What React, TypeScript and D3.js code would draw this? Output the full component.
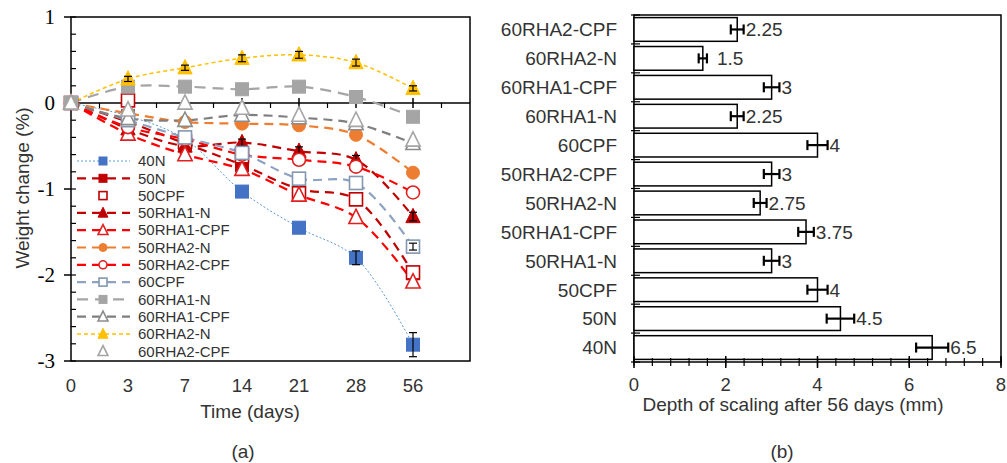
import React from "react";
import * as d3 from "d3";

// ---------- Data: (a) weight change ----------
const days = ["0", "3", "7", "14", "21", "28", "56"];
const yTicksA = [1, 0, -1, -2, -3];

const s40N = [0, -0.15, -0.42, -1.03, -1.45, -1.8, -2.81];
const s50N = [0, -0.22, -0.47, -0.72, -1.0, -1.12, -1.98];
const s50CPF = [0, 0.03, -0.45, -0.62, -1.05, -1.12, -1.97];
const s50RHA1N = [0, -0.3, -0.5, -0.46, -0.56, -0.66, -1.32];
const s50RHA1CPF = [0, -0.36, -0.6, -0.77, -1.07, -1.33, -2.08];
const s50RHA2N = [0, -0.12, -0.22, -0.24, -0.26, -0.37, -0.81];
const s50RHA2CPF = [0, -0.28, -0.42, -0.6, -0.66, -0.74, -1.04];
const s60CPF = [0, -0.2, -0.4, -0.58, -0.88, -0.93, -1.67];
const s60RHA1N = [0, 0.19, 0.19, 0.16, 0.19, 0.07, -0.16];
const s60RHA1CPF = [0, -0.18, -0.2, -0.14, -0.17, -0.24, -0.47];
const s60RHA2N = [0, 0.28, 0.41, 0.52, 0.56, 0.47, 0.17];
const s60RHA2CPF = [0, -0.08, 0.0, -0.06, -0.14, -0.2, -0.43];

const e40N = [0, 0, 0, 0, 0, 0.08, 0.14];
const e60RHA2N = [0, 0.03, 0.03, 0.04, 0.04, 0.04, 0.03];
const e50RHA1N = [0, 0, 0, 0.04, 0.05, 0.05, 0.05];
const e60CPF = [0, 0, 0, 0, 0, 0, 0.04];

// ---------- Data: (b) depth of scaling ----------
const mixes = [
  "60RHA2-CPF", "60RHA2-N", "60RHA1-CPF", "60RHA1-N", "60CPF", "50RHA2-CPF",
  "50RHA2-N", "50RHA1-CPF", "50RHA1-N", "50CPF", "50N", "40N",
];
const depth = [2.25, 1.5, 3, 2.25, 4, 3, 2.75, 3.75, 3, 4, 4.5, 6.5];
const depthLabels = ["2.25", "1.5", "3", "2.25", "4", "3", "2.75", "3.75", "3", "4", "4.5", "6.5"];
const depthErr = [0.14, 0.09, 0.17, 0.14, 0.22, 0.17, 0.14, 0.17, 0.17, 0.22, 0.3, 0.35];
const xTicksB = [0, 2, 4, 6, 8];

type Shape = "square" | "triangle" | "circle";
interface Ser {
  name: string; vals: number[]; err?: number[]; color: string; marker: string;
  shape: Shape; open: boolean; dash: string | null; width: number;
}

const series: Ser[] = [
  { name: "40N", vals: s40N, err: e40N, color: "#5B9BD5", marker: "#4472C4", shape: "square", open: false, dash: "2,2", width: 1 },
  { name: "50N", vals: s50N, color: "#C00000", marker: "#C00000", shape: "square", open: false, dash: "9,6", width: 2.2 },
  { name: "50CPF", vals: s50CPF, color: "#C00000", marker: "#C00000", shape: "square", open: true, dash: null, width: 0 },
  { name: "50RHA1-N", vals: s50RHA1N, err: e50RHA1N, color: "#C00000", marker: "#C00000", shape: "triangle", open: false, dash: "9,6", width: 2.2 },
  { name: "50RHA1-CPF", vals: s50RHA1CPF, color: "#FF0000", marker: "#E02020", shape: "triangle", open: true, dash: "9,6", width: 2.2 },
  { name: "50RHA2-N", vals: s50RHA2N, color: "#ED7D31", marker: "#ED7D31", shape: "circle", open: false, dash: "9,6", width: 2.2 },
  { name: "50RHA2-CPF", vals: s50RHA2CPF, color: "#FF0000", marker: "#E02020", shape: "circle", open: true, dash: "9,6", width: 2.2 },
  { name: "60CPF", vals: s60CPF, err: e60CPF, color: "#8EA3C2", marker: "#8497B0", shape: "square", open: true, dash: "9,6", width: 2.2 },
  { name: "60RHA1-N", vals: s60RHA1N, color: "#A5A5A5", marker: "#A5A5A5", shape: "square", open: false, dash: "11,7", width: 2.2 },
  { name: "60RHA1-CPF", vals: s60RHA1CPF, color: "#7F7F7F", marker: "#8C8C8C", shape: "triangle", open: true, dash: "9,6", width: 2.2 },
  { name: "60RHA2-N", vals: s60RHA2N, err: e60RHA2N, color: "#FFC000", marker: "#FFC000", shape: "triangle", open: false, dash: "4,3", width: 1.5 },
  { name: "60RHA2-CPF", vals: s60RHA2CPF, color: "#A5A5A5", marker: "#A5A5A5", shape: "triangle", open: true, dash: null, width: 0 },
];

const SANS = "'Liberation Sans', Arial, sans-serif";
const SERIF = "'Liberation Serif', 'Times New Roman', serif";
const TXT = "#333333";

function Marker({ s, x, y, size }: { s: Ser; x: number; y: number; size: number }) {
  const fill = s.open ? "#ffffff" : s.marker;
  const sw = s.open ? 1.6 : 1;
  if (s.shape === "square") {
    return <rect x={x - size / 2} y={y - size / 2} width={size} height={size} fill={fill} stroke={s.marker} strokeWidth={sw} />;
  }
  if (s.shape === "circle") {
    return <circle cx={x} cy={y} r={size / 2} fill={fill} stroke={s.marker} strokeWidth={sw} />;
  }
  const h = size * 1.05;
  const pts = `${x},${y - h * 0.6} ${x + size * 0.55},${y + h * 0.45} ${x - size * 0.55},${y + h * 0.45}`;
  return <polygon points={pts} fill={fill} stroke={s.marker} strokeWidth={sw} />;
}

export default function App() {
  // ---- panel (a) scales ----
  const xA = d3.scaleLinear().domain([0, 7]).range([71, 470]);
  const yA = d3.scaleLinear().domain([-3, 1]).range([361, 17]);
  const line = d3
    .line<number>()
    .x((_, i) => xA(i))
    .y((d) => yA(d))
    .curve(d3.curveCatmullRom.alpha(0.5));
  const minorY = d3.range(-3, 1.001, 0.2);
  const minorX = d3.range(0.5, 7, 1);

  // ---- panel (b) scales ----
  const xB = d3.scaleLinear().domain([0, 8]).range([634, 1001]);
  const yB = d3.scaleBand<string>().domain(mixes).range([15, 362]).paddingInner(0.18).paddingOuter(0.09);
  const step = yB.step();
  const minorB = d3.range(0, 8.001, 0.4);

  const legendY0 = 161;
  const legendStep = 17.3;

  return (
    <svg width={1007} height={463} style={{ position: "absolute", left: 0, top: 0, background: "#fff" }}>
      <rect x={0} y={0} width={1007} height={463} fill="#fff" />
      {/* ================= Panel (a) ================= */}
      <rect x={xA(0)} y={yA(1)} width={xA(7) - xA(0)} height={yA(-3) - yA(1)} fill="none" stroke="#000" strokeWidth={1.5} />
      <line x1={xA(0)} x2={xA(7)} y1={yA(0)} y2={yA(0)} stroke="#000" strokeWidth={1.5} />
      {days.map((d, i) => (
        <line key={"xt" + d} x1={xA(i)} x2={xA(i)} y1={yA(0) - 5} y2={yA(0) + 5} stroke="#000" strokeWidth={1.5} />
      ))}
      {minorX.map((v) => (
        <line key={"xm" + v} x1={xA(v)} x2={xA(v)} y1={yA(0)} y2={yA(0) + 5} stroke="#000" strokeWidth={1.2} />
      ))}
      {minorY.map((v, i) => (
        <line key={"ym" + i} x1={xA(0)} x2={xA(0) + 5} y1={yA(v)} y2={yA(v)} stroke="#000" strokeWidth={1.2} />
      ))}
      {yTicksA.map((v) => (
        <g key={"yt" + v}>
          <line x1={xA(0) - 7} x2={xA(0)} y1={yA(v)} y2={yA(v)} stroke="#000" strokeWidth={1.5} />
          <text x={55} y={yA(v)} dy="0.33em" textAnchor="end" fontFamily={SERIF} fontSize={21} fill="#000">
            {v < 0 ? "-" + Math.abs(v) : String(v)}
          </text>
        </g>
      ))}
      {days.map((d, i) => (
        <text key={"xl" + d} x={xA(i)} y={392} textAnchor="middle" fontFamily={SANS} fontSize={18.5} fill={TXT}>
          {d}
        </text>
      ))}
      <text x={250} y={418} textAnchor="middle" fontFamily={SANS} fontSize={19} fill={TXT}>Time (days)</text>
      <text transform="translate(29,188) rotate(-90)" textAnchor="middle" fontFamily={SANS} fontSize={19} fill={TXT}>
        Weight change (%)
      </text>
      <text x={243} y={458} textAnchor="middle" fontFamily={SANS} fontSize={19} fill={TXT}>(a)</text>

      {series.map((s) =>
        s.dash ? (
          <path key={"l" + s.name} d={line(s.vals) || ""} fill="none" stroke={s.color} strokeWidth={s.width} strokeDasharray={s.dash} />
        ) : null
      )}
      {series.map((s) => (
        <g key={"m" + s.name}>
          {s.vals.map((v, i) => (
            <Marker key={i} s={s} x={xA(i)} y={yA(v)} size={13} />
          ))}
          {s.err &&
            s.vals.map((v, i) =>
              s.err![i] > 0 ? (
                <g key={"e" + i} stroke="#000" strokeWidth={1.2}>
                  <line x1={xA(i)} x2={xA(i)} y1={yA(v + s.err![i])} y2={yA(v - s.err![i])} />
                  <line x1={xA(i) - 4} x2={xA(i) + 4} y1={yA(v + s.err![i])} y2={yA(v + s.err![i])} />
                  <line x1={xA(i) - 4} x2={xA(i) + 4} y1={yA(v - s.err![i])} y2={yA(v - s.err![i])} />
                </g>
              ) : null
            )}
        </g>
      ))}

      {series.map((s, i) => {
        const y = legendY0 + i * legendStep;
        return (
          <g key={"lg" + s.name}>
            {s.dash && <line x1={77} x2={130} y1={y} y2={y} stroke={s.color} strokeWidth={s.width} strokeDasharray={s.dash} />}
            <Marker s={s} x={103} y={y} size={s.shape === "triangle" ? 9 : 8} />
            <text x={138} y={y} dy="0.35em" fontFamily={SANS} fontSize={15} fill={TXT}>{s.name}</text>
          </g>
        );
      })}

      {/* ================= Panel (b) ================= */}
      <rect x={xB(0)} y={15} width={xB(8) - xB(0)} height={362 - 15} fill="none" stroke="#000" strokeWidth={1.5} />
      {mixes.map((m, i) => {
        const y = yB(m)!;
        const bh = yB.bandwidth();
        const cy = y + bh / 2;
        const v = depth[i];
        const e = depthErr[i];
        return (
          <g key={"b" + m}>
            <rect x={xB(0)} y={y} width={xB(v) - xB(0)} height={bh} fill="#fff" stroke="#000" strokeWidth={1.5} />
            <g stroke="#000" strokeWidth={2.2}>
              <line x1={xB(v - e)} x2={xB(v + e)} y1={cy} y2={cy} />
              <line x1={xB(v - e)} x2={xB(v - e)} y1={cy - 5} y2={cy + 5} />
              <line x1={xB(v + e)} x2={xB(v + e)} y1={cy - 5} y2={cy + 5} />
            </g>
            <text x={xB(v + e) + (v < 2 ? 10 : 2)} y={cy} dy="0.36em" fontFamily={SANS} fontSize={19} fill={TXT}>
              {depthLabels[i]}
            </text>
            <text x={617} y={cy} dy="0.36em" textAnchor="end" fontFamily={SANS} fontSize={19} fill={TXT}>{m}</text>
          </g>
        );
      })}
      {d3.range(0, mixes.length + 1).map((k) => (
        <line key={"byt" + k} x1={xB(0) - 3} x2={xB(0) + 6} y1={15 + k * step} y2={15 + k * step} stroke="#000" strokeWidth={1.2} />
      ))}
      {minorB.map((v, i) => (
        <line key={"bxm" + i} x1={xB(v)} x2={xB(v)} y1={362 - 4} y2={362 + 4} stroke="#000" strokeWidth={1.2} />
      ))}
      {xTicksB.map((v) => (
        <g key={"bxt" + v}>
          <line x1={xB(v)} x2={xB(v)} y1={362 - 6} y2={362 + 6} stroke="#000" strokeWidth={1.5} />
          <text x={xB(v)} y={391} textAnchor="middle" fontFamily={SANS} fontSize={18.5} fill={TXT}>{v}</text>
        </g>
      ))}
      <text x={793} y={411} textAnchor="middle" fontFamily={SANS} fontSize={19} fill={TXT}>
        Depth of scaling after 56 days (mm)
      </text>
      <text x={782} y={458} textAnchor="middle" fontFamily={SANS} fontSize={19} fill={TXT}>(b)</text>
    </svg>
  );
}
